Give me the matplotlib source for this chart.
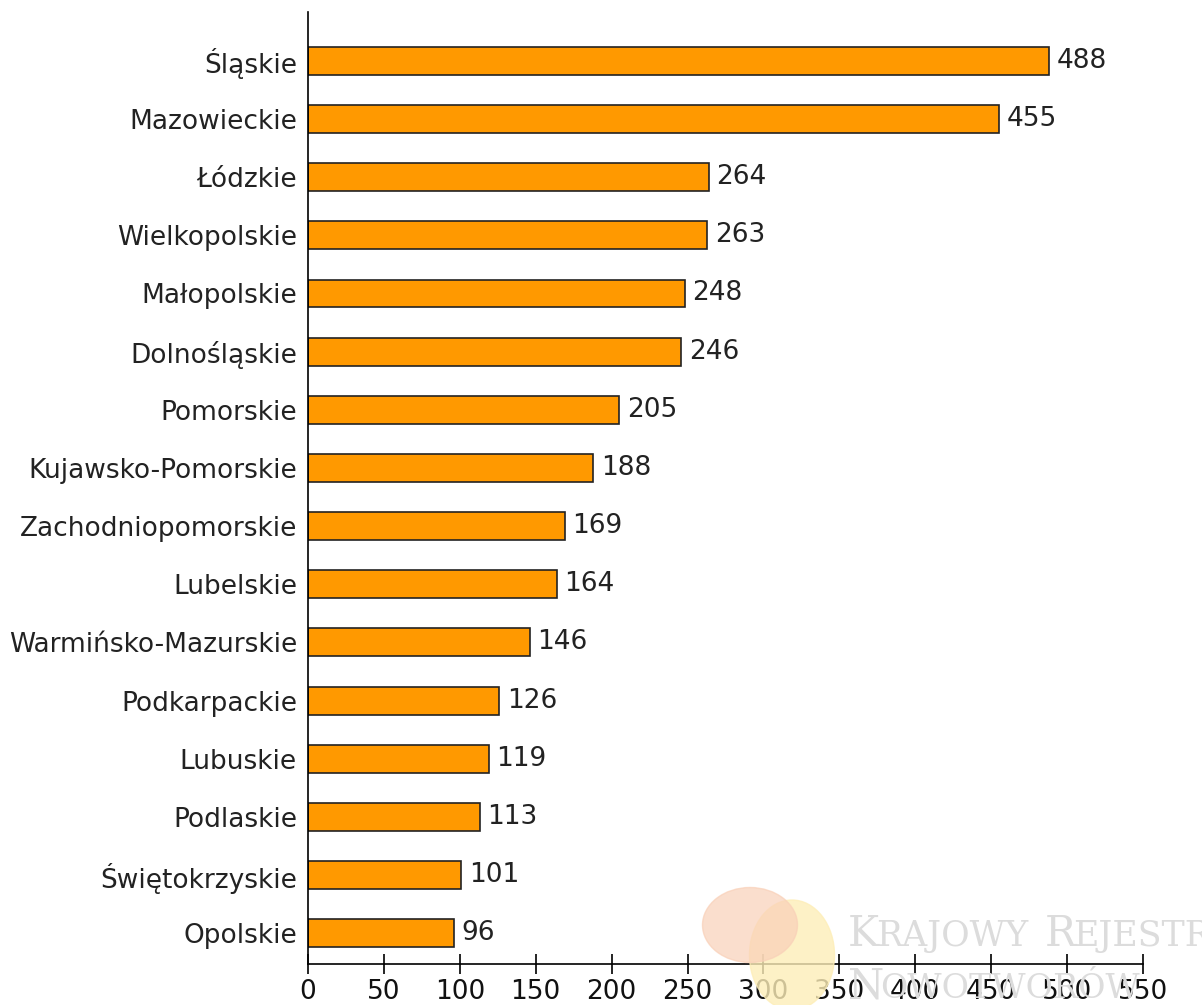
import matplotlib.pyplot as plt
from matplotlib.patches import Ellipse

regions = ["Śląskie", "Mazowieckie", "Łódzkie", "Wielkopolskie", "Małopolskie",
           "Dolnośląskie", "Pomorskie", "Kujawsko-Pomorskie", "Zachodniopomorskie",
           "Lubelskie", "Warmińsko-Mazurskie", "Podkarpackie", "Lubuskie",
           "Podlaskie", "Świętokrzyskie", "Opolskie"]
counts = [488, 455, 264, 263, 248, 246, 205, 188, 169, 164, 146, 126, 119, 113, 101, 96]
xticks = [0, 50, 100, 150, 200, 250, 300, 350, 400, 450, 500, 550]

plt.rcParams['font.family'] = ['DejaVu Sans']

fig = plt.figure(figsize=(12.02, 10.05), dpi=100)
ax = fig.add_axes([308/1202, 1 - 964/1005, 835/1202, 952/1005])

# watermark (faint logo + text), behind the chart
fig.patches.append(Ellipse((792/1202, 1 - 955/1005), 85/1202, 110/1005, transform=fig.transFigure,
                           color="#fdeeb8", alpha=0.8, zorder=0))
fig.patches.append(Ellipse((750/1202, 1 - 925/1005), 95/1202, 75/1005, transform=fig.transFigure,
                           color="#f9d0b8", alpha=0.7, zorder=0))
wm = dict(family="DejaVu Serif", color="#dcdcdc", va="baseline", zorder=0)
fig.text(848/1202, 1 - 946/1005, "K", fontsize=30, **wm)
fig.text(876/1202, 1 - 946/1005, "RAJOWY", fontsize=25, **wm)
fig.text(1045/1202, 1 - 946/1005, "R", fontsize=30, **wm)
fig.text(1073/1202, 1 - 946/1005, "EJESTR", fontsize=25, **wm)
fig.text(848/1202, 1 - 998/1005, "N", fontsize=30, **wm)
fig.text(880/1202, 1 - 998/1005, "OWOTWORÓW", fontsize=24, **wm)
ax.patch.set_alpha(0)

ypos = list(range(len(regions) - 1, -1, -1))
ax.barh(ypos, counts, height=0.48, color="#ff9900", edgecolor="#222222", linewidth=1.2, zorder=2)
for y, v in zip(ypos, counts):
    ax.text(v + 5, y, str(v), va="center", ha="left", fontsize=19, color="#222222")

ax.set_yticks(ypos)
ax.set_yticklabels(regions, fontsize=19, color="#222222")
ax.tick_params(axis="y", length=0, pad=8)
ax.set_xticks(xticks)
ax.set_xticklabels([str(t) for t in xticks], fontsize=19, color="#111111")
ax.tick_params(axis="x", direction="inout", length=14, width=1.2, pad=4)
ax.set_xlim(0, 550)
ax.set_ylim(-0.53, 15.84)

for s in ["top", "right"]:
    ax.spines[s].set_visible(False)
ax.spines["left"].set_linewidth(1.2)
ax.spines["bottom"].set_linewidth(1.2)

fig.savefig("out.png", dpi=100)
